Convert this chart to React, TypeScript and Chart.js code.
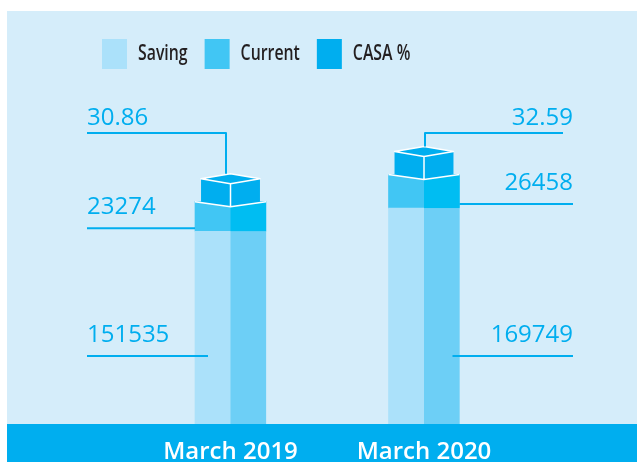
import React, { useEffect, useRef } from "react";
import { Chart, registerables } from "chart.js";

Chart.register(...registerables);

// ---- data ----
const categories = ["March 2019", "March 2020"];
const savingValues = [151535, 169749];
const currentValues = [23274, 26458];
const casaPercent = [30.86, 32.59];
const legendNames = ["Saving", "Current", "CASA %"];

// ---- styles ----
const C = {
  bg: "#d5edfa",
  band: "#00aeef",
  saving: "#abe1fa",
  savingShade: "#6dcff6",
  current: "#41c6f4",
  currentShade: "#00bdf2",
  casa: "#00aeef",
  label: "#00aeef",
  legendText: "#231f20",
};
const legendColors = [C.saving, C.current, C.casa];
const LABEL_FONT = "500 24px 'Open Sans', sans-serif";
const LEFT_X = 87;
const RIGHT_X = 573;

const decorPlugin = {
  id: "decor",
  beforeDraw(chart: any) {
    const { ctx, width, height, chartArea } = chart;
    ctx.save();
    ctx.fillStyle = "#ffffff";
    ctx.fillRect(0, 0, width, height);
    ctx.fillStyle = C.bg;
    ctx.fillRect(7, 11, width - 7, chartArea.bottom - 11);
    ctx.fillStyle = C.band;
    ctx.fillRect(7, chartArea.bottom, width - 7, height - chartArea.bottom);
    ctx.restore();
  },
  afterDatasetsDraw(chart: any) {
    const { ctx } = chart;
    const savingMeta = chart.getDatasetMeta(0);
    const currentMeta = chart.getDatasetMeta(1);
    ctx.save();
    // darker right halves (3D side)
    [savingMeta, currentMeta].forEach((meta: any, di: number) => {
      ctx.fillStyle = di === 0 ? C.savingShade : C.currentShade;
      meta.data.forEach((el: any) => {
        const { x, y, base, width } = el.getProps(["x", "y", "base", "width"], true);
        ctx.fillRect(x, Math.min(y, base), width / 2, Math.abs(base - y));
      });
    });

    // cubes + labels
    currentMeta.data.forEach((el: any, i: number) => {
      const { x: cx, y: yt, base: cb, width } = el.getProps(["x", "y", "base", "width"], true);
      const sEl = savingMeta.data[i];
      const hw = width / 2;
      const ch = hw * 0.83;
      const dip = 5;
      const L = [cx - ch, yt - 23];
      const T = [cx, yt - 28];
      const R = [cx + ch, yt - 23];
      const B = [cx, yt - 18];
      const sideDip = yt + (dip * (hw - ch)) / hw;
      ctx.fillStyle = C.casa;
      ctx.beginPath();
      ctx.moveTo(L[0], L[1]);
      ctx.lineTo(T[0], T[1]);
      ctx.lineTo(R[0], R[1]);
      ctx.lineTo(cx + ch, sideDip);
      ctx.lineTo(cx, yt + dip);
      ctx.lineTo(cx - ch, sideDip);
      ctx.closePath();
      ctx.fill();
      ctx.strokeStyle = "#ffffff";
      ctx.lineWidth = 1.5;
      ctx.lineJoin = "round";
      ctx.beginPath();
      ctx.moveTo(L[0], L[1]);
      ctx.lineTo(T[0], T[1]);
      ctx.lineTo(R[0], R[1]);
      ctx.lineTo(B[0], B[1]);
      ctx.closePath();
      ctx.moveTo(B[0], B[1]);
      ctx.lineTo(cx, yt + dip);
      ctx.moveTo(cx - hw, yt);
      ctx.lineTo(cx, yt + dip);
      ctx.lineTo(cx + hw, yt);
      ctx.stroke();

      // labels
      const left = i === 0;
      ctx.font = LABEL_FONT;
      ctx.fillStyle = C.label;
      ctx.strokeStyle = C.label;
      ctx.lineWidth = 2;
      ctx.textBaseline = "alphabetic";
      ctx.textAlign = left ? "left" : "right";
      const tx = left ? LEFT_X : RIGHT_X;

      // CASA %
      const casaLineY = 133;
      ctx.fillText(casaPercent[i].toFixed(2), tx, casaLineY - 8);
      const vx = left ? cx - 4.5 : cx + 1;
      ctx.beginPath();
      ctx.moveTo(left ? LEFT_X : RIGHT_X - 10, casaLineY);
      ctx.lineTo(vx, casaLineY);
      ctx.lineTo(vx, T[1]);
      ctx.stroke();

      // Current
      const curLineY = Math.min(left ? 233 : 204, cb - 3);
      ctx.fillText(String(currentValues[i]), tx, curLineY - 14);
      ctx.beginPath();
      ctx.moveTo(left ? LEFT_X : RIGHT_X, curLineY);
      ctx.lineTo(left ? cx - hw : cx + hw, curLineY);
      ctx.stroke();

      // Saving
      const savLineY = 356;
      ctx.fillText(String(savingValues[i]), tx, savLineY - 14);
      const sw = sEl.getProps(["width"], true).width / 2;
      ctx.beginPath();
      ctx.moveTo(left ? LEFT_X : RIGHT_X, savLineY);
      ctx.lineTo(left ? cx - sw + 13 : cx + sw - 7, savLineY);
      ctx.stroke();
    });
    ctx.restore();
  },
  afterDraw(chart: any) {
    const { ctx } = chart;
    ctx.save();
    ctx.font = "600 22px 'Open Sans', sans-serif";
    ctx.textBaseline = "alphabetic";
    ctx.textAlign = "left";
    const sx = 0.72;
    let x = 102;
    legendNames.forEach((name, i) => {
      ctx.fillStyle = legendColors[i];
      ctx.fillRect(x, 39, 25, 30);
      const tx = x + 25 + 11;
      ctx.save();
      ctx.translate(tx, 60);
      ctx.scale(sx, 1);
      ctx.fillStyle = C.legendText;
      ctx.fillText(name, 0, 0);
      ctx.restore();
      x = tx + ctx.measureText(name).width * sx + 17;
    });
    ctx.restore();
  },
};

export default function App() {
  const ref = useRef<HTMLCanvasElement>(null);
  useEffect(() => {
    document.body.style.margin = "0";
    const chart = new Chart(ref.current as HTMLCanvasElement, {
      type: "bar",
      data: {
        labels: categories,
        datasets: [
          {
            label: legendNames[0],
            data: savingValues,
            backgroundColor: C.saving,
            borderWidth: 0,
            barThickness: 71,
          },
          {
            label: legendNames[1],
            data: currentValues,
            backgroundColor: C.current,
            borderWidth: 0,
            barThickness: 71,
          },
        ],
      },
      options: {
        responsive: false,
        animation: false,
        layout: { padding: { top: 106, left: 133.75, right: 116.25, bottom: 0 } },
        plugins: {
          legend: { display: false },
          tooltip: { enabled: false },
        },
        scales: {
          x: {
            stacked: true,
            grid: { display: false },
            border: { display: false },
            ticks: {
              color: "#ffffff",
              font: { family: "'Open Sans', sans-serif", size: 24, weight: 600 },
              padding: 6,
              maxRotation: 0,
            },
            afterFit: (s: any) => {
              s.height = 38;
            },
          },
          y: { stacked: true, display: false, min: 0, max: 250000 },
        },
      },
      plugins: [decorPlugin],
    } as any);
    return () => chart.destroy();
  }, []);
  return (
    <div style={{ width: 637, height: 462 }}>
      <canvas ref={ref} width={637} height={462} style={{ display: "block" }} />
    </div>
  );
}
